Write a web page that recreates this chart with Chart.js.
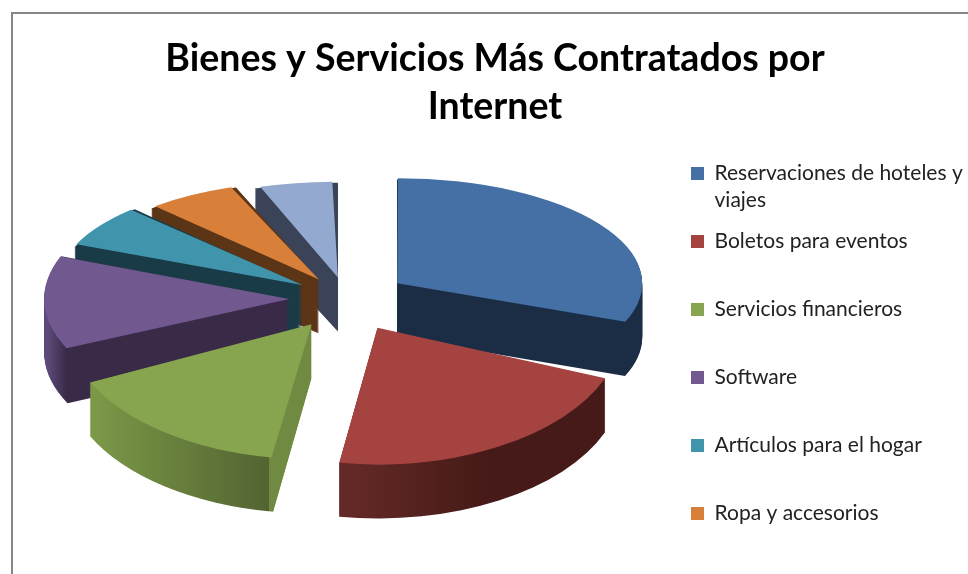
<!DOCTYPE html>
<html lang="es">
<head>
<meta charset="utf-8">
<title>Bienes y Servicios</title>
<script src="https://cdn.jsdelivr.net/npm/chart.js@4"></script>
<style>
    html, body { margin: 0; padding: 0; background: #fff; overflow: hidden; }
    #frame { position: absolute; left: 11px; top: 12px; width: 970px; height: 580px; border-left: 2px solid #868686; border-top: 2px solid #868686; }
    #pie { position: absolute; left: 0; top: 0; }
</style>
</head>
<body>
<div id="frame"></div>
<canvas id="pie" width="968" height="574"></canvas>
<script>
const titleLines = ['Bienes y Servicios Más Contratados por', 'Internet'];
// todas con dos lineas para que la leyenda tenga el mismo paso
const categories = [
    ['Reservaciones de hoteles y', 'viajes'],
    ['Boletos para eventos', ''],
    ['Servicios financieros', ''],
    ['Software', ''],
    ['Artículos para el hogar', ''],
    ['Ropa y accesorios', ''],
    ['Otros', '']
];
const shares = [31, 21.5, 15.5, 13, 7, 6.5, 5.5];
const legendItemCount = 6;

const topColors = ['#4470a6', '#a54341', '#87a44e', '#71588f', '#4095ad', '#d88039', '#93a9cf'];
// cara lateral: [posicion 0-1 a lo ancho del pastel, color]
const sideColors = [
    [[0, '#1a2d45'], [1, '#1a2d45']],
    [[0.49, '#652a27'], [0.72, '#461a18'], [1, '#461a18']],
    [[0.08, '#7f9c49'], [0.377, '#526431'], [0.378, '#708a42'], [1, '#708a42']],
    [[0.03, '#5d4a7a'], [0.06, '#392a47'], [1, '#392a47']],
    [[0, '#193b47'], [1, '#193b47']],
    [[0, '#5c3416'], [1, '#5c3416']],
    [[0, '#3a4357'], [1, '#3a4357']]
];

// vista 3D del pastel
const view = { cx: 347, cy: 298, rx: 245, depth: 54, tilt: 0.48, perspective: 0.09 };
const explode = 176;

// arc.draw mueve offset / 4 y agranda el radio segun el tamano de la rebanada
function drawnRadius(arc) {
    const span = arc.endAngle - arc.startAngle;
    return arc.outerRadius + (1 - Math.sin(Math.min(Math.PI, span))) * explode / 4;
}

function sliceTransform(ctx, arc) {
    const mid = (arc.startAngle + arc.endAngle) / 2;
    const scaleX = view.rx / drawnRadius(arc);
    // las rebanadas de enfrente se ven mas altas que las de atras
    const scaleY = scaleX * (view.tilt + view.perspective * Math.sin(mid));
    ctx.translate(view.cx, view.cy);
    ctx.scale(scaleX, scaleY);
    ctx.translate(-arc.x, -arc.y);
}

const pie3d = {
    id: 'pie3d',
    afterLayout(chart) {
        // la leyenda va mas arriba y mas pegada al borde que su caja natural
        chart.legend.left = 677;
        chart.legend.top = 149;
    },
    beforeDatasetDraw(chart, args) {
        const ctx = chart.ctx;
        const arcs = args.meta.data;
        const shift = explode / 4;

        // lados: capas de abajo hacia arriba
        for (let d = view.depth; d > 0; d--) {
            arcs.forEach((arc, i) => {
                const mid = (arc.startAngle + arc.endAngle) / 2;
                const radius = drawnRadius(arc);
                ctx.save();
                ctx.translate(0, d);
                sliceTransform(ctx, arc);
                const span = radius * 1.3;
                const grad = ctx.createLinearGradient(arc.x - span, 0, arc.x + span, 0);
                sideColors[i].forEach(s => grad.addColorStop(s[0], s[1]));
                const ox = arc.x + Math.cos(mid) * shift;
                const oy = arc.y + Math.sin(mid) * shift;
                ctx.beginPath();
                ctx.moveTo(ox, oy);
                ctx.arc(ox, oy, radius, arc.startAngle, arc.endAngle);
                ctx.closePath();
                ctx.fillStyle = grad;
                ctx.fill();
                ctx.restore();
            });
        }

        // caras de arriba con el dibujo del propio arco
        arcs.forEach(arc => {
            ctx.save();
            sliceTransform(ctx, arc);
            arc.draw(ctx);
            ctx.restore();
        });
        return false;
    }
};

new Chart(document.getElementById('pie').getContext('2d'), {
    type: 'pie',
    data: {
        labels: categories,
        datasets: [{
            data: shares,
            backgroundColor: topColors,
            borderWidth: 0,
            offset: explode
        }]
    },
    options: {
        responsive: false,
        animation: false,
        layout: { padding: { left: 22 } },
        plugins: {
            tooltip: { enabled: false },
            title: {
                display: true,
                text: titleLines,
                color: '#000',
                font: { family: 'Lato', size: 37.5, weight: 'bold', lineHeight: 48 / 37.5 },
                padding: { top: 35, bottom: -82 }
            },
            legend: {
                position: 'right',
                align: 'start',
                labels: {
                    color: '#222',
                    font: { family: 'Lato', size: 21, lineHeight: 27 / 21 },
                    boxWidth: 13,
                    boxHeight: 13,
                    padding: 14,
                    filter: item => item.index < legendItemCount
                }
            }
        }
    },
    plugins: [pie3d]
});
</script>
</body>
</html>
